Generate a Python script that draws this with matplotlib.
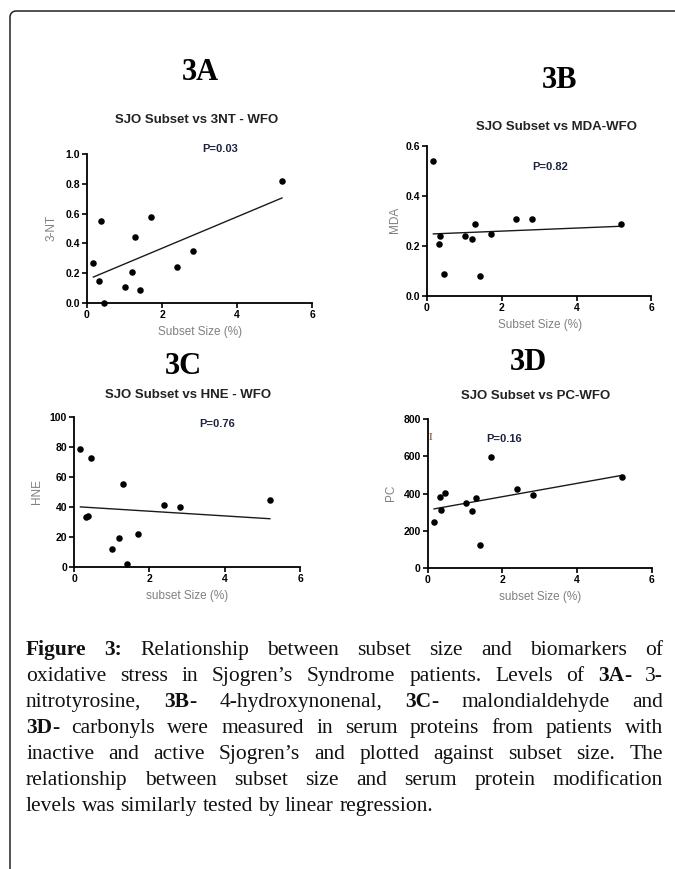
import numpy as np
import matplotlib
matplotlib.use("Agg")
import matplotlib.pyplot as plt

plt.rcParams['font.family'] = ['Liberation Sans', 'DejaVu Sans']

# subset size (%) shared by all four panels
subset_size = [0.17, 0.33, 0.36, 0.46, 1.02, 1.19, 1.29, 1.41, 1.70, 2.39, 2.82, 5.20]
nt3 = [0.27, 0.15, 0.55, 0.00, 0.11, 0.21, 0.44, 0.09, 0.58, 0.24, 0.35, 0.82]
mda = [0.54, 0.21, 0.24, 0.09, 0.24, 0.23, 0.29, 0.08, 0.25, 0.31, 0.31, 0.29]
hne = [78.5, 33.3, 33.8, 72.2, 11.8, 18.9, 54.9, 2.0, 21.8, 41.3, 39.8, 44.5]
pc = [248, 382, 312, 403, 348, 305, 377, 126, 594, 426, 394, 487]

panel_tags = ["3A", "3B", "3C", "3D"]
panel_titles = ["SJO Subset vs 3NT - WFO", "SJO Subset vs MDA-WFO",
                "SJO Subset vs HNE - WFO", "SJO Subset vs PC-WFO"]
p_values = ["P=0.03", "P=0.82", "P=0.76", "P=0.16"]
y_labels = ["3-NT", "MDA", "HNE", "PC"]
x_labels = ["Subset Size (%)", "Subset Size (%)", "subset Size (%)", "subset Size (%)"]
x_ticks = [0, 2, 4, 6]
y_ticks_a = [0.0, 0.2, 0.4, 0.6, 0.8, 1.0]
y_ticks_b = [0.0, 0.2, 0.4, 0.6]
y_ticks_c = [0, 20, 40, 60, 80, 100]
y_ticks_d = [0, 200, 400, 600, 800]

caption_lines = [
    "**Figure** **3:** Relationship between subset size and biomarkers of",
    "oxidative stress in Sjogren’s Syndrome patients. Levels of **3A**- 3-",
    "nitrotyrosine, **3B**- 4-hydroxynonenal, **3C**- malondialdehyde and",
    "**3D**- carbonyls were measured in serum proteins from patients with",
    "inactive and active Sjogren’s and plotted against subset size. The",
    "relationship between subset size and serum protein modification",
    "levels was similarly tested by linear regression.",
]

W, H = 675, 869
fig = plt.figure(figsize=(W / 100, H / 100), dpi=100)


def fx(x):
    return x / W


def fy(y):
    return 1 - y / H


# layout in pixels: (x at 0, x at 6, y top, y bottom), text centres
panels = [
    dict(box=(87, 312, 154, 303), y=nt3, yt=y_ticks_a, fmt="{:.1f}",
         tag=(200, 72), title=(197, 120), p=(220, 149), xl=(200, 332), yl=(52, 228)),
    dict(box=(427, 651.4, 146, 296), y=mda, yt=y_ticks_b, fmt="{:.1f}",
         tag=(560, 80), title=(556, 127), p=(550, 167), xl=(540, 325), yl=(395, 220)),
    dict(box=(74, 300, 416.7, 566.7), y=hne, yt=y_ticks_c, fmt="{:d}",
         tag=(183, 366), title=(188, 395), p=(217, 424), xl=(187, 596), yl=(37, 492)),
    dict(box=(427.7, 651.7, 419, 568.3), y=pc, yt=y_ticks_d, fmt="{:d}",
         tag=(528, 362), title=(536, 396), p=(504, 439), xl=(540, 597), yl=(391, 493)),
]

for i, pnl in enumerate(panels):
    x0, x1, yt, yb = pnl["box"]
    ax = fig.add_axes([fx(x0), fy(yb), (x1 - x0) / W, (yb - yt) / H])
    x = np.array(subset_size)
    y = np.array(pnl["y"])
    ax.scatter(x, y, s=22, color="black", clip_on=False, zorder=3, linewidths=0)
    slope, icpt = np.polyfit(x, y, 1)
    xs = np.array([x.min(), x.max()])
    ax.plot(xs, slope * xs + icpt, color="#1a1a1a", lw=1.0)
    ax.set_xlim(0, 6)
    ax.set_ylim(pnl["yt"][0], pnl["yt"][-1])
    ax.set_xticks(x_ticks, [str(t) for t in x_ticks], fontweight="bold")
    ax.set_yticks(pnl["yt"], [pnl["fmt"].format(t) for t in pnl["yt"]], fontweight="bold")
    for s in ["top", "right"]:
        ax.spines[s].set_visible(False)
    for s in ["left", "bottom"]:
        ax.spines[s].set_linewidth(1.3)
    ax.tick_params(direction="out", length=3.5, width=1.2, labelsize=7.5, pad=1.5)
    ax.set_xlabel(x_labels[i], color="#808080", fontsize=8.5, va="center", ha="center")
    ax.xaxis.set_label_coords((pnl["xl"][0] - x0) / (x1 - x0), (yb - pnl["xl"][1]) / (yb - yt))
    ax.set_ylabel(y_labels[i], color="#808080", fontsize=8.5, va="center", ha="center")
    ax.yaxis.set_label_coords((pnl["yl"][0] - x0) / (x1 - x0), (yb - pnl["yl"][1]) / (yb - yt))

    fig.text(fx(pnl["tag"][0]), fy(pnl["tag"][1]), panel_tags[i], family="Liberation Serif",
             fontweight="bold", fontsize=22, ha="center", va="center")
    fig.text(fx(pnl["title"][0]), fy(pnl["title"][1]), panel_titles[i], fontweight="bold",
             fontsize=9.5, ha="center", va="center", color="#222222")
    fig.text(fx(pnl["p"][0]), fy(pnl["p"][1]), p_values[i], fontweight="bold",
             fontsize=8, ha="center", va="center", color="#1c2440")

# stray mark left of the PC axis
fig.text(fx(430), fy(438), "I", family="Liberation Serif", fontsize=8, color="#6b3a1f",
         ha="center", va="center")

# caption, justified by hand
renderer = fig.canvas.get_renderer()
cap_left, cap_right = 26, 663
baseline0, line_gap = 655, 26
cap_kw = dict(family="Liberation Serif", fontsize=15.5, color="#111111")


def seg_parts(word):
    parts = word.split("**")
    return [(p, k % 2 == 1) for k, p in enumerate(parts) if p]


def width_of(txt, bold):
    t = fig.text(0, 0, txt, fontweight="bold" if bold else "normal", **cap_kw)
    w = t.get_window_extent(renderer).width
    t.remove()
    return w


space_w = width_of("a b", False) - width_of("ab", False)

for li, line in enumerate(caption_lines):
    words = [seg_parts(w) for w in line.split(" ")]
    widths = [[width_of(s, b) for s, b in wd] for wd in words]
    total = sum(sum(w) for w in widths)
    if li < len(caption_lines) - 1:
        gap = (cap_right - cap_left - total) / (len(words) - 1)
    else:
        gap = space_w
    xc = cap_left
    yb = baseline0 + li * line_gap
    for wd, ws in zip(words, widths):
        for (s, b), w in zip(wd, ws):
            fig.text(fx(xc), fy(yb), s, fontweight="bold" if b else "normal",
                     ha="left", va="baseline", **cap_kw)
            xc += w
        xc += gap

# page frame: left rule and top rule with a rounded corner
r = 6
ang = np.linspace(np.pi, np.pi / 2, 12)
fx_pts = np.concatenate([[10, 10], 10 + r + r * np.cos(ang), [W + 5]])
fy_pts = np.concatenate([[H + 5, 11 + r], 11 + r - r * np.sin(ang), [11]])
fig.add_artist(plt.Line2D(fx(fx_pts), fy(fy_pts), transform=fig.transFigure,
                          color="#222222", lw=1.1))

fig.savefig("out.png", dpi=100)
